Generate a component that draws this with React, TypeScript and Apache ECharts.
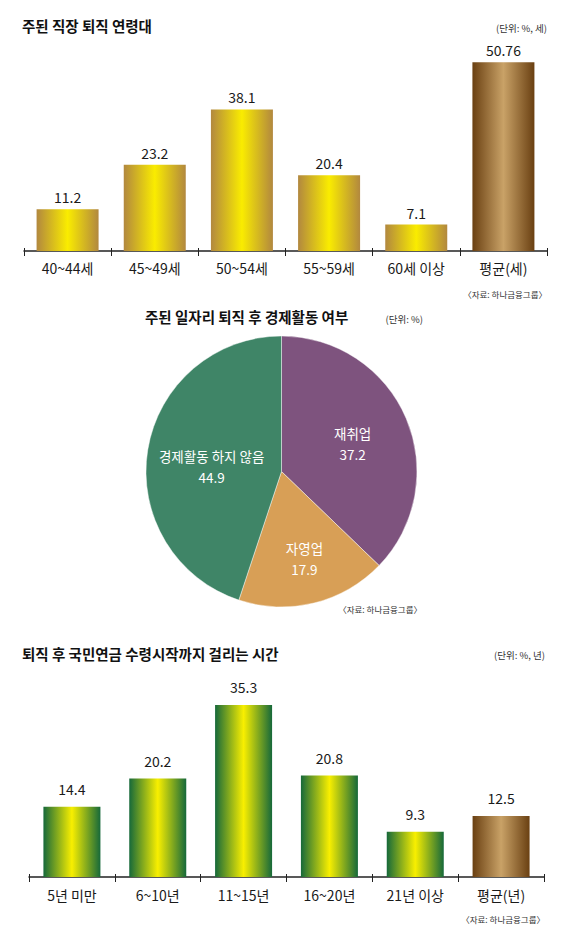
import React, { useEffect, useRef } from "react";
import * as echarts from "echarts";

const FONT = "'Noto Sans CJK KR', 'Noto Sans', sans-serif";

// Chart 1: 주된 직장 퇴직 연령대
const ageCategories = ["40~44세", "45~49세", "50~54세", "55~59세", "60세 이상", "평균(세)"];
const ageValues = [11.2, 23.2, 38.1, 20.4, 7.1, 50.76];

// Chart 2: 주된 일자리 퇴직 후 경제활동 여부
const activityNames = ["재취업", "자영업", "경제활동 하지 않음"];
const activityValues = [37.2, 17.9, 44.9];
const activityColors = ["#7e537e", "#d89f56", "#3f8567"];

// Chart 3: 퇴직 후 국민연금 수령시작까지 걸리는 시간
const pensionCategories = ["5년 미만", "6~10년", "11~15년", "16~20년", "21년 이상", "평균(년)"];
const pensionValues = [14.4, 20.2, 35.3, 20.8, 9.3, 12.5];

const goldGrad = () =>
  new echarts.graphic.LinearGradient(0, 0, 1, 0, [
    { offset: 0, color: "#b2883f" },
    { offset: 0.5, color: "#faec00" },
    { offset: 1, color: "#b2883f" },
  ]);
const greenGrad = () =>
  new echarts.graphic.LinearGradient(0, 0, 1, 0, [
    { offset: 0, color: "#16693a" },
    { offset: 0.5, color: "#f8ef00" },
    { offset: 1, color: "#16693a" },
  ]);
const brownGrad = () =>
  new echarts.graphic.LinearGradient(0, 0, 1, 0, [
    { offset: 0, color: "#6a4012" },
    { offset: 0.5, color: "#c9a267" },
    { offset: 1, color: "#6a4012" },
  ]);

const pieLabelOffsets = [
  [6, 0],
  [6, 18],
  [0, 6],
];

export default function App() {
  const ref = useRef<HTMLDivElement>(null);
  useEffect(() => {
    if (!ref.current) return;
    const chart = echarts.init(ref.current, undefined, { renderer: "svg" });
    const axisLine = { show: true, lineStyle: { color: "#222", width: 1.5 } };
    const smallText = (text: string, x: number, y: number, size: number) => ({
      type: "text",
      x,
      y,
      style: {
        text,
        fontSize: size,
        fontFamily: FONT,
        fill: "#333",
        align: "right",
        verticalAlign: "middle",
      },
    });
    const titleStyle = { fontSize: 14.5, fontWeight: "bold", color: "#111", fontFamily: FONT };
    const option: any = {
      animation: false,
      backgroundColor: "#ffffff",
      textStyle: { fontFamily: FONT },
      title: [
        { text: "주된 직장 퇴직 연령대", left: 22, top: 18, padding: 0, textStyle: titleStyle },
        { text: "주된 일자리 퇴직 후 경제활동 여부", left: 145, top: 309, padding: 0, textStyle: titleStyle },
        { text: "퇴직 후 국민연금 수령시작까지 걸리는 시간", left: 22, top: 646, padding: 0, textStyle: titleStyle },
      ],
      grid: [
        { left: 24, width: 523, top: 28, height: 223 },
        { left: 29, width: 515, top: 682, height: 195 },
      ],
      xAxis: [
        {
          gridIndex: 0,
          type: "category",
          position: "bottom",
          data: ageCategories,
          axisLine,
          axisTick: { show: true, length: 5, lineStyle: { color: "#222", width: 1 } },
          axisLabel: { margin: 10, fontSize: 14, color: "#1a1a1a", fontFamily: FONT },
        },
        {
          gridIndex: 0,
          type: "category",
          position: "bottom",
          data: ageCategories,
          axisLine: { show: false },
          axisTick: { show: true, inside: true, length: 3, lineStyle: { color: "#222", width: 1 } },
          axisLabel: { show: false },
        },
        {
          gridIndex: 1,
          type: "category",
          position: "bottom",
          data: pensionCategories,
          axisLine,
          axisTick: { show: true, length: 5, lineStyle: { color: "#222", width: 1 } },
          axisLabel: { margin: 11, fontSize: 14, color: "#1a1a1a", fontFamily: FONT },
        },
        {
          gridIndex: 1,
          type: "category",
          position: "bottom",
          data: pensionCategories,
          axisLine: { show: false },
          axisTick: { show: true, inside: true, length: 3, lineStyle: { color: "#222", width: 1 } },
          axisLabel: { show: false },
        },
      ],
      yAxis: [
        { gridIndex: 0, type: "value", min: 0, max: 60, show: false },
        { gridIndex: 1, type: "value", min: 0, max: 40, show: false },
      ],
      series: [
        {
          type: "bar",
          xAxisIndex: 0,
          yAxisIndex: 0,
          barWidth: 62,
          data: ageValues.map((v, i) => ({
            value: v,
            itemStyle: { color: i === ageValues.length - 1 ? brownGrad() : goldGrad() },
          })),
          label: {
            show: true,
            position: "top",
            distance: 5,
            fontSize: 14,
            color: "#1a1a1a",
            fontFamily: FONT,
          },
        },
        {
          type: "bar",
          xAxisIndex: 2,
          yAxisIndex: 1,
          barWidth: 57,
          data: pensionValues.map((v, i) => ({
            value: v,
            itemStyle: { color: i === pensionValues.length - 1 ? brownGrad() : greenGrad() },
          })),
          label: {
            show: true,
            position: "top",
            distance: 11,
            fontSize: 14,
            color: "#1a1a1a",
            fontFamily: FONT,
          },
        },
        {
          type: "pie",
          center: [281.5, 471.5],
          radius: 135.5,
          startAngle: 90,
          clockwise: true,
          itemStyle: { borderColor: "rgba(255,255,255,0.55)", borderWidth: 0.8 },
          labelLine: { show: false },
          label: {
            show: true,
            position: "inside",
            color: "#ffffff",
            fontSize: 13.5,
            lineHeight: 21,
            fontFamily: FONT,
            formatter: "{b}\n{c}",
          },
          emphasis: { disabled: true },
          data: activityNames.map((n, i) => ({
            name: n,
            value: activityValues[i],
            itemStyle: { color: activityColors[i] },
            label: { offset: pieLabelOffsets[i] },
          })),
        },
      ],
      graphic: [
        smallText("(단위: %, 세)", 547, 28, 9.5),
        smallText("〈자료: 하나금융그룹〉", 547, 294, 8.5),
        smallText("(단위: %)", 423, 319, 9.5),
        smallText("〈자료: 하나금융그룹〉", 422, 609, 8.5),
        smallText("(단위: %, 년)", 545, 655, 9.5),
        smallText("〈자료: 하나금융그룹〉", 545, 919, 8.5),
      ],
    };
    chart.setOption(option);
    return () => chart.dispose();
  }, []);
  return (
    <div
      ref={ref}
      style={{ position: "absolute", left: 0, top: 0, width: 569, height: 939, background: "#fff" }}
    />
  );
}
